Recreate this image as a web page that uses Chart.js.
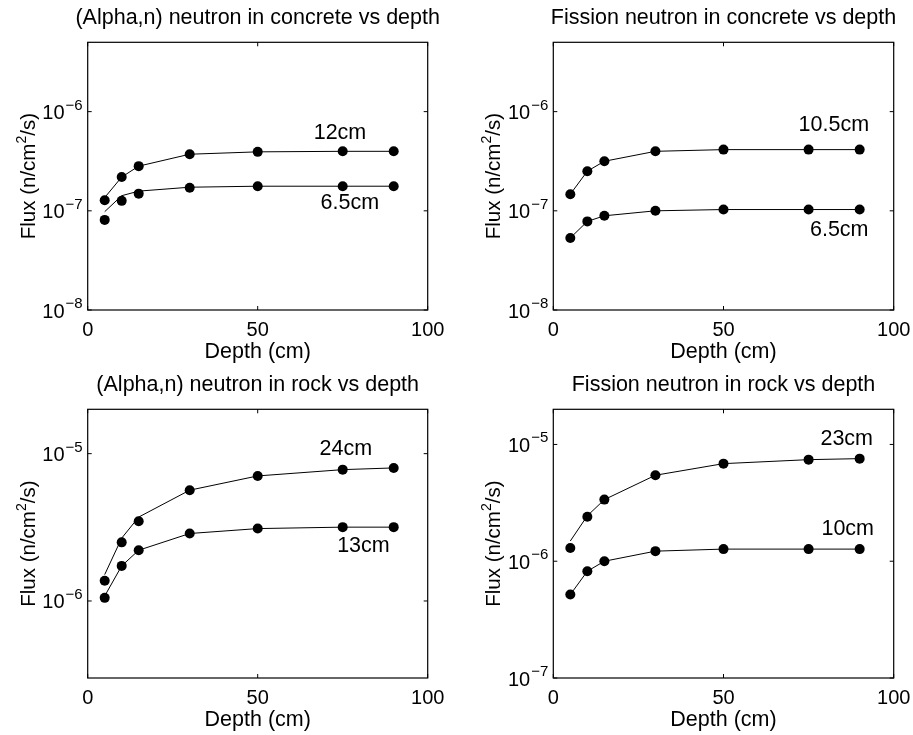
<!DOCTYPE html>
<html>
<head>
<meta charset="utf-8">
<script src="https://cdn.jsdelivr.net/npm/chart.js@4/dist/chart.umd.min.js"></script>
<style>
  html, body { margin: 0; padding: 0; background: #fff; }
  #wrap { position: relative; width: 913px; height: 735px; }
  canvas { position: absolute; }
</style>
</head>
<body>
<div id="wrap">
  <canvas id="c1" width="456" height="367" style="left:0;top:0"></canvas>
  <canvas id="c2" width="457" height="367" style="left:456px;top:0"></canvas>
  <canvas id="c3" width="456" height="368" style="left:0;top:367px"></canvas>
  <canvas id="c4" width="457" height="368" style="left:456px;top:367px"></canvas>
</div>
<script>
// 깊이 (cm)
const depths = [5, 10, 15, 30, 50, 75, 90];

// (Alpha,n) - concrete
const concAlphaHi = [1.28e-7, 2.19e-7, 2.82e-7, 3.72e-7, 3.93e-7, 3.98e-7, 3.98e-7];
const concAlphaHiCurve = [1.36e-7, 2.19e-7, 2.82e-7, 3.72e-7, 3.93e-7, 3.98e-7, 3.98e-7];
const concAlphaLo = [8.1e-8, 1.26e-7, 1.49e-7, 1.71e-7, 1.77e-7, 1.77e-7, 1.77e-7];
const concAlphaLoCurve = [9.8e-8, 1.42e-7, 1.58e-7, 1.73e-7, 1.77e-7, 1.77e-7, 1.77e-7];

// Fission - concrete
const concFisHi = [1.47e-7, 2.51e-7, 3.16e-7, 3.98e-7, 4.14e-7, 4.14e-7, 4.14e-7];
const concFisLo = [5.33e-8, 7.82e-8, 8.91e-8, 1.0e-7, 1.03e-7, 1.03e-7, 1.03e-7];

// (Alpha,n) - rock
const rockAlphaHi = [1.37e-6, 2.50e-6, 3.48e-6, 5.65e-6, 7.06e-6, 7.79e-6, 8.0e-6];
const rockAlphaHiCurve = [1.51e-6, 2.67e-6, 3.71e-6, 5.65e-6, 7.06e-6, 7.79e-6, 8.0e-6];
const rockAlphaLo = [1.05e-6, 1.73e-6, 2.21e-6, 2.87e-6, 3.10e-6, 3.17e-6, 3.17e-6];
const rockAlphaLoCurve = [1.08e-6, 1.73e-6, 2.21e-6, 2.87e-6, 3.10e-6, 3.17e-6, 3.17e-6];

// Fission - rock
const rockFisHi = [1.30e-6, 2.40e-6, 3.37e-6, 5.45e-6, 6.85e-6, 7.41e-6, 7.56e-6];
const rockFisHiCurve = [1.49e-6, 2.45e-6, 3.37e-6, 5.45e-6, 6.85e-6, 7.41e-6, 7.56e-6];
const rockFisLo = [5.18e-7, 8.21e-7, 1.0e-6, 1.22e-6, 1.27e-6, 1.27e-6, 1.27e-6];

// 눈금
const xTicks = [0, 50, 100];
const yExpConcrete = [-8, -7, -6];
const yExpAlphaRock = [-6, -5];
const yExpFisRock = [-7, -6, -5];

const FONT = '"Liberation Sans", Arial, Helvetica, sans-serif';

function pts(xs, ys) {
    return xs.map((x, i) => ({ x: x, y: ys[i] }));
}

// 위첨자 포함 텍스트 (가운데 정렬)
function drawSupText(ctx, parts, x, y) {
    let total = 0;
    parts.forEach(p => {
        ctx.font = p.size + 'px ' + FONT;
        p.w = ctx.measureText(p.t).width;
        total += p.w;
    });
    let cur = x - total / 2;
    ctx.textAlign = 'left';
    parts.forEach(p => {
        ctx.font = p.size + 'px ' + FONT;
        ctx.fillText(p.t, cur, y + (p.dy || 0));
        cur += p.w;
    });
}

// MATLAB 스타일 축 그리기
const matlabAxes = {
    id: 'matlabAxes',
    afterDraw(chart, args, opts) {
        const ctx = chart.ctx;
        const a = chart.chartArea;
        const xs = chart.scales.x;
        const ys = chart.scales.y;
        ctx.save();
        ctx.strokeStyle = '#000';
        ctx.fillStyle = '#000';
        ctx.lineWidth = 1.2;
        ctx.strokeRect(a.left, a.top, a.right - a.left, a.bottom - a.top);

        // 안쪽 눈금
        const tl = 4;
        ctx.lineWidth = 1;
        ctx.beginPath();
        xTicks.forEach(v => {
            const px = xs.getPixelForValue(v);
            ctx.moveTo(px, a.bottom); ctx.lineTo(px, a.bottom - tl);
            ctx.moveTo(px, a.top); ctx.lineTo(px, a.top + tl);
        });
        opts.yExp.forEach(e => {
            const py = ys.getPixelForValue(Math.pow(10, e));
            ctx.moveTo(a.left, py); ctx.lineTo(a.left + tl, py);
            ctx.moveTo(a.right, py); ctx.lineTo(a.right - tl, py);
        });
        ctx.stroke();

        // x 눈금 라벨
        ctx.font = '20px ' + FONT;
        ctx.textAlign = 'center';
        ctx.textBaseline = 'middle';
        xTicks.forEach(v => {
            ctx.fillText(String(v), xs.getPixelForValue(v), a.bottom + 20);
        });

        // y 눈금 라벨 (10^n)
        opts.yExp.forEach(e => {
            const py = ys.getPixelForValue(Math.pow(10, e));
            const sup = '\u2212' + Math.abs(e);
            ctx.font = '15px ' + FONT;
            ctx.textAlign = 'right';
            ctx.textBaseline = 'alphabetic';
            const supRight = a.left - 5;
            ctx.fillText(sup, supRight, py - 2);
            const sw = ctx.measureText(sup).width;
            ctx.font = '20px ' + FONT;
            ctx.fillText('10', supRight - sw - 1, py + 7.5);
        });

        // 축 제목
        const cx = (a.left + a.right) / 2;
        ctx.font = '21.5px ' + FONT;
        ctx.textAlign = 'center';
        ctx.textBaseline = 'middle';
        ctx.fillText('Depth (cm)', cx, a.bottom + 42);
        ctx.fillText(opts.title, cx, a.top - 24);

        ctx.save();
        ctx.translate(a.left - 61, (a.top + a.bottom) / 2);
        ctx.rotate(-Math.PI / 2);
        ctx.textBaseline = 'alphabetic';
        drawSupText(ctx, [
            { t: 'Flux (n/cm', size: 20.5 },
            { t: '2', size: 14, dy: -9 },
            { t: '/s)', size: 20.5 }
        ], 0, 8);
        ctx.restore();

        // 곡선 라벨
        ctx.font = '21.5px ' + FONT;
        ctx.textAlign = 'center';
        ctx.textBaseline = 'middle';
        opts.labels.forEach(l => {
            ctx.fillText(l.text, xs.getPixelForValue(l.x), ys.getPixelForValue(l.y));
        });
        ctx.restore();
    }
};

function makePanel(id, cfg) {
    const datasets = [];
    cfg.series.forEach(s => {
        datasets.push({
            data: pts(depths, s.curve || s.marks),
            showLine: true,
            borderColor: '#000',
            borderWidth: 1,
            pointRadius: 0,
            pointHoverRadius: 0,
            tension: 0
        });
        datasets.push({
            data: pts(depths, s.marks),
            showLine: false,
            pointRadius: 5,
            pointHoverRadius: 5,
            pointBackgroundColor: '#000',
            pointBorderColor: '#000',
            pointBorderWidth: 0
        });
    });

    new Chart(document.getElementById(id), {
        type: 'scatter',
        data: { datasets: datasets },
        options: {
            responsive: false,
            animation: false,
            events: [],
            layout: { padding: cfg.pad },
            plugins: {
                legend: { display: false },
                tooltip: { enabled: false },
                matlabAxes: { title: cfg.title, yExp: cfg.yExp, labels: cfg.labels }
            },
            scales: {
                x: { type: 'linear', display: false, min: 0, max: 100 },
                y: { type: 'logarithmic', display: false, min: cfg.yMin, max: cfg.yMax }
            }
        },
        plugins: [matlabAxes]
    });
}

makePanel('c1', {
    title: '(Alpha,n) neutron in concrete vs depth',
    pad: { left: 87.7, top: 42.3, right: 28.3, bottom: 57 },
    yMin: 1e-8, yMax: 5e-6, yExp: yExpConcrete,
    series: [
        { marks: concAlphaHi, curve: concAlphaHiCurve },
        { marks: concAlphaLo, curve: concAlphaLoCurve }
    ],
    labels: [
        { text: '12cm', x: 74.2, y: 6.1e-7 },
        { text: '6.5cm', x: 77.1, y: 1.19e-7 }
    ]
});

makePanel('c2', {
    title: 'Fission neutron in concrete vs depth',
    pad: { left: 97.3, top: 42.3, right: 19.3, bottom: 57 },
    yMin: 1e-8, yMax: 5e-6, yExp: yExpConcrete,
    series: [
        { marks: concFisHi },
        { marks: concFisLo }
    ],
    labels: [
        { text: '10.5cm', x: 82.4, y: 7.36e-7 },
        { text: '6.5cm', x: 84.0, y: 6.46e-8 }
    ]
});

makePanel('c3', {
    title: '(Alpha,n) neutron in rock vs depth',
    pad: { left: 87.7, top: 42.3, right: 28.3, bottom: 57 },
    yMin: 3e-7, yMax: 2e-5, yExp: yExpAlphaRock,
    series: [
        { marks: rockAlphaHi, curve: rockAlphaHiCurve },
        { marks: rockAlphaLo, curve: rockAlphaLoCurve }
    ],
    labels: [
        { text: '24cm', x: 75.9, y: 1.08e-5 },
        { text: '13cm', x: 81.1, y: 2.36e-6 }
    ]
});

makePanel('c4', {
    title: 'Fission neutron in rock vs depth',
    pad: { left: 97.3, top: 42.3, right: 19.3, bottom: 57 },
    yMin: 1e-7, yMax: 2e-5, yExp: yExpFisRock,
    series: [
        { marks: rockFisHi, curve: rockFisHiCurve },
        { marks: rockFisLo }
    ],
    labels: [
        { text: '23cm', x: 86.2, y: 1.12e-5 },
        { text: '10cm', x: 86.5, y: 1.88e-6 }
    ]
});
</script>
</body>
</html>
